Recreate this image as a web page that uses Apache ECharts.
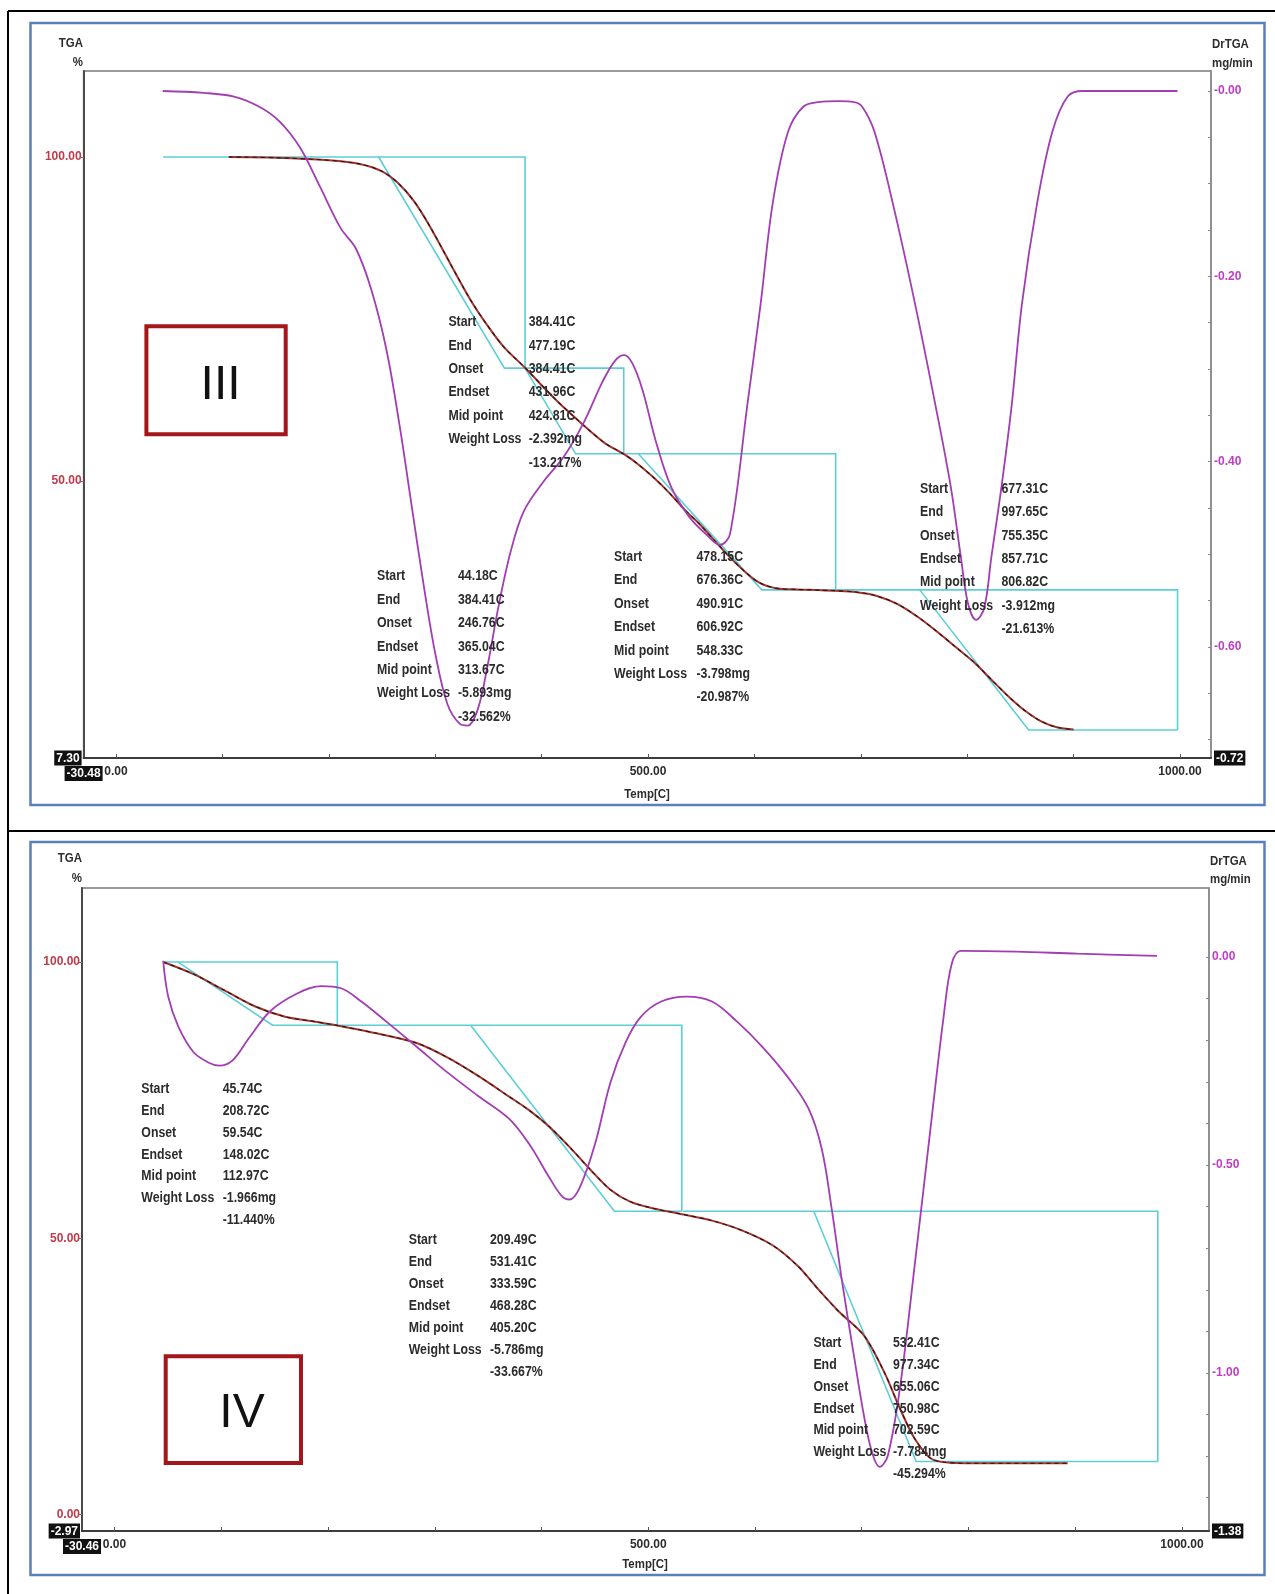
<!DOCTYPE html>
<html>
<head>
<meta charset="utf-8">
<title>TGA / DrTGA</title>
<script src="https://cdn.jsdelivr.net/npm/echarts@6.0.0/dist/echarts.min.js"></script>
<style>
  html, body { margin: 0; padding: 0; background: #fff; }
  #chart { width: 1275px; height: 1594px; }
</style>
</head>
<body>
<div id="chart"></div>
<script>
// ---------- Sample III : TGA (%) and DrTGA (mg/min) against temperature ----------
const iiiTgaTemp = [106, 150, 200, 230, 250, 265, 280, 295, 313.67, 333, 350, 365, 384.41, 400, 415, 430, 445, 460, 477, 490, 505, 520, 535, 548.33, 560, 575, 590, 605, 620, 640, 660, 676, 695, 715, 735, 755, 770, 790, 806.82, 825, 840, 855, 870, 885, 900];
const iiiTgaPct = [100.0, 99.9, 99.5, 98.9, 97.8, 96.0, 93.2, 89.3, 83.7, 78.0, 73.8, 70.6, 67.5, 64.8, 62.3, 60.0, 57.8, 55.8, 54.2, 52.7, 50.6, 48.2, 45.5, 43.4, 41.3, 38.6, 36.2, 34.3, 33.5, 33.3, 33.2, 33.1, 32.9, 32.3, 31.0, 28.9, 27.0, 24.3, 22.0, 19.0, 16.6, 14.5, 12.9, 12.0, 11.7];
const iiiDtgTemp = [43.9, 82.1, 110.8, 134.7, 153.8, 172.9, 192, 211.1, 225.4, 239.8, 254.1, 266.5, 278, 289.5, 300, 311.5, 322.9, 330.5, 340.1, 349.6, 359.2, 370.7, 383.1, 402.2, 421.3, 440.4, 456.7, 469.1, 477.7, 485.3, 494.9, 507.3, 521.6, 538.9, 555.1, 567.6, 577.1, 593.3, 605.8, 617.2, 631.6, 645.9, 660.2, 679.3, 693.7, 701.3, 712.8, 730, 751, 770.1, 784.5, 794, 800.7, 808.3, 816, 822.7, 832.2, 841.8, 851.4, 865.7, 880, 894.4, 908.7, 997.6];
const iiiDtgRate = [0.000, -0.002, -0.006, -0.017, -0.033, -0.061, -0.104, -0.148, -0.170, -0.214, -0.279, -0.361, -0.449, -0.536, -0.607, -0.662, -0.683, -0.685, -0.667, -0.618, -0.558, -0.498, -0.454, -0.421, -0.394, -0.356, -0.315, -0.291, -0.285, -0.294, -0.323, -0.378, -0.427, -0.460, -0.479, -0.490, -0.478, -0.339, -0.230, -0.121, -0.044, -0.017, -0.012, -0.011, -0.012, -0.017, -0.044, -0.121, -0.230, -0.339, -0.427, -0.503, -0.553, -0.571, -0.558, -0.503, -0.427, -0.339, -0.230, -0.121, -0.044, -0.006, 0.000, 0.000];

// weight-loss steps of sample III
const iiiStart = [44.18, 384.41, 478.15, 677.31];
const iiiEnd = [384.41, 477.19, 676.36, 997.65];
const iiiOnset = [246.76, 384.41, 490.91, 755.35];
const iiiEndset = [365.04, 431.96, 606.92, 857.71];
const iiiMid = [313.67, 424.81, 548.33, 806.82];
const iiiLossMg = [-5.893, -2.392, -3.798, -3.912];
const iiiLossPct = [-32.562, -13.217, -20.987, -21.613];

// ---------- Sample IV ----------
const ivTgaTemp = [45.6, 74.1, 102.7, 131.3, 159.8, 188.4, 206.5, 245.5, 283.6, 312.1, 340.7, 369.3, 388.3, 407.3, 426.4, 445.4, 464.5, 483.5, 507.3, 528.2, 559.7, 588.2, 616.8, 640.6, 659.6, 678.7, 702.5, 721.5, 735.8, 750.1, 767.2, 797.7, 892.9];
const ivTgaPct = [100.0, 97.8, 94.9, 92.0, 90.1, 89.2, 88.6, 87.1, 85.3, 82.7, 79.4, 75.7, 73.2, 70.2, 66.5, 62.5, 58.8, 56.6, 55.3, 54.5, 53.2, 51.4, 48.7, 44.9, 40.7, 36.7, 32.3, 25.6, 19.2, 13.6, 9.9, 9.3, 9.3];
const ivDtgTemp = [45.6, 50.3, 59.9, 74.1, 88.4, 98.0, 110.3, 126.5, 145.5, 169.3, 193.1, 212.2, 231.2, 255.0, 283.6, 312.1, 340.7, 369.3, 388.3, 407.3, 418.8, 426.4, 435.9, 450.2, 464.5, 478.8, 493.0, 512.1, 535.9, 559.7, 583.5, 607.3, 631.1, 650.1, 662.5, 672.0, 681.5, 692.9, 702.5, 710.1, 716.8, 724.4, 735.8, 750.1, 764.4, 776.7, 784.3, 792.9, 845.3, 902.4, 976.6];
const ivDtgRate = [-0.009, -0.095, -0.168, -0.229, -0.254, -0.261, -0.249, -0.193, -0.131, -0.090, -0.070, -0.075, -0.107, -0.156, -0.217, -0.278, -0.334, -0.388, -0.449, -0.530, -0.574, -0.583, -0.554, -0.449, -0.302, -0.205, -0.144, -0.107, -0.095, -0.107, -0.156, -0.217, -0.290, -0.364, -0.461, -0.608, -0.779, -0.962, -1.109, -1.195, -1.226, -1.199, -1.036, -0.730, -0.412, -0.143, -0.016, 0.015, 0.013, 0.008, 0.003];

const ivStart = [45.74, 209.49, 532.41];
const ivEnd = [208.72, 531.41, 977.34];
const ivOnset = [59.54, 333.59, 655.06];
const ivEndset = [148.02, 468.28, 750.98];
const ivMid = [112.97, 405.20, 702.59];
const ivLossMg = [-1.966, -5.786, -7.784];
const ivLossPct = [-11.440, -33.667, -45.294];

// ---------- axis ranges, ticks and labels ----------
const tempTicks = [0, 100, 200, 300, 400, 500, 600, 700, 800, 900, 1000];
const tempLabels = [0, 500, 1000];
const iiiTempRange = [-30.48, 1029.1];
const ivTempRange = [-30.46, 1025.3];
const iiiTgaRange = [7.30, 113.27];
const ivTgaRange = [-2.97, 113.4];
const iiiDtgRange = [-0.72, 0.0216];
const ivDtgRange = [-1.38, 0.166];
const iiiTgaLabels = [50, 100];
const ivTgaLabels = [0, 50, 100];
const iiiDtgLabels = [-0.6, -0.4, -0.2, 0];
const ivDtgLabels = [-1.0, -0.5, 0];
const iiiDtgTicks = [-0.70, -0.65, -0.60, -0.55, -0.50, -0.45, -0.40, -0.35, -0.30, -0.25, -0.20, -0.15, -0.10, -0.05, 0];
const ivDtgTicks = [-1.3, -1.2, -1.1, -1.0, -0.9, -0.8, -0.7, -0.6, -0.5, -0.4, -0.3, -0.2, -0.1, 0];

// ---------- styles ----------
const CYAN = '#5ccfd6';
const PURPLE = '#a23db3';
const TGA_RED = '#a8312c';
const LABEL_RED = '#c23a48';
const LABEL_MAG = '#c13cc6';
const INK = '#2c2c2c';
const AXIS_FONT = '"Liberation Sans", Arial, sans-serif';
const NOTE_FONT = 'bold 14px "Liberation Sans", Arial, sans-serif';
const TITLE_FONT = 'bold 13px "Liberation Sans", Arial, sans-serif';
const NARROW = 0.88;   // horizontal squeeze for the condensed instrument lettering

const zip = (xs, ys) => xs.map((x, i) => [x, ys[i]]);
const near = (a, b) => Math.abs(a - b) < 1e-6;

// step outline: level line, drop at End, onset→endset tangent, endset level
function stepPaths(start, end, onset, endset, lossPct) {
  const paths = [];
  let level = 100;
  for (let i = 0; i < start.length; i++) {
    const next = level + lossPct[i];
    paths.push({ coords: [[start[i], level], [end[i], level], [end[i], next]] });
    paths.push({ coords: [[onset[i], level], [endset[i], next], [end[i], next]] });
    level = next;
  }
  return paths;
}

const boxRich = {
  box: { backgroundColor: '#111', color: '#fff', padding: [2, 2, 1, 2], fontWeight: 'bold', fontSize: 12, fontFamily: AXIS_FONT },
  red: { color: LABEL_RED, fontWeight: 'bold', fontSize: 12, fontFamily: AXIS_FONT },
  mag: { color: LABEL_MAG, fontWeight: 'bold', fontSize: 12, fontFamily: AXIS_FONT },
  ink: { color: INK, fontWeight: 'bold', fontSize: 12, fontFamily: AXIS_FONT }
};

function tempAxis(grid, range) {
  return {
    type: 'value', gridIndex: grid, min: range[0], max: range[1],
    axisLine: { show: true, onZero: false, lineStyle: { color: '#3c3c3c', width: 2 } },
    axisTick: { show: true, inside: true, length: 4, customValues: tempTicks, lineStyle: { color: '#555', width: 1 } },
    axisLabel: {
      show: true, margin: 8, customValues: [range[0]].concat(tempLabels), rich: boxRich,
      formatter: v => near(v, range[0]) ? '{box|' + v.toFixed(2) + '}' : '{ink|' + v.toFixed(2) + '}'
    },
    splitLine: { show: false }
  };
}

function tgaAxis(grid, range, labels) {
  return {
    type: 'value', gridIndex: grid, position: 'left', min: range[0], max: range[1],
    axisLine: { show: true, onZero: false, lineStyle: { color: '#4a4a4a', width: 2 } },
    axisTick: { show: true, length: 3, customValues: labels, lineStyle: { color: '#777' } },
    axisLabel: {
      show: true, margin: 2, customValues: [range[0]].concat(labels), rich: boxRich,
      formatter: v => near(v, range[0]) ? '{box|' + v.toFixed(2) + '}' : '{red|' + v.toFixed(2) + '}'
    },
    splitLine: { show: false }
  };
}

function dtgAxis(grid, range, labels, ticks, signedZero) {
  return {
    type: 'value', gridIndex: grid, position: 'right', min: range[0], max: range[1],
    axisLine: { show: true, onZero: false, lineStyle: { color: '#8c8c8c', width: 1.5 } },
    axisTick: { show: true, inside: true, length: 3, customValues: ticks, lineStyle: { color: '#888' } },
    axisLabel: {
      show: true, margin: 3, customValues: [range[0]].concat(labels), rich: boxRich,
      formatter: v => {
        if (near(v, range[0])) return '{box|' + v.toFixed(2) + '}';
        const t = (signedZero ? '-' + Math.abs(v).toFixed(2) : (Math.abs(v) < 1e-9 ? '0.00' : v.toFixed(2)));
        return '{mag|' + t + '}';
      }
    },
    splitLine: { show: false }
  };
}

function panelSeries(xi, yl, yr, tgaT, tgaP, dtgT, dtgR, st, en, on, es, loss) {
  return [
    {
      type: 'lines', coordinateSystem: 'cartesian2d', xAxisIndex: xi, yAxisIndex: yl,
      polyline: true, silent: true, z: 2,
      lineStyle: { color: CYAN, width: 1.6, opacity: 1 },
      data: stepPaths(st, en, on, es, loss)
    },
    {
      type: 'line', xAxisIndex: xi, yAxisIndex: yl, data: zip(tgaT, tgaP), smooth: 0.3,
      showSymbol: false, silent: true, z: 3,
      lineStyle: { color: TGA_RED, width: 2 }
    },
    {
      type: 'line', xAxisIndex: xi, yAxisIndex: yl, data: zip(tgaT, tgaP), smooth: 0.3,
      showSymbol: false, silent: true, z: 4,
      lineStyle: { color: '#1a1a1a', width: 1.1, type: [4, 4] }
    },
    {
      type: 'line', xAxisIndex: xi, yAxisIndex: yr, data: zip(dtgT, dtgR), smooth: 0.35,
      showSymbol: false, silent: true, z: 5,
      lineStyle: { color: PURPLE, width: 1.8 }
    }
  ];
}

function txt(text, x, y, align, font) {
  return { type: 'text', x: x, y: y, z: 50, scaleX: NARROW,
    style: { text: text, font: font || TITLE_FONT, fill: INK, textAlign: align || 'left', textVerticalAlign: 'middle' } };
}

// annotation blocks (one per weight-loss step)
function noteBlock(i, st, en, on, es, mid, mg, pct, x, xv, y0, dy) {
  const names = ['Start', 'End', 'Onset', 'Endset', 'Mid point', 'Weight Loss'];
  const vals = [st[i].toFixed(2) + 'C', en[i].toFixed(2) + 'C', on[i].toFixed(2) + 'C',
    es[i].toFixed(2) + 'C', mid[i].toFixed(2) + 'C', mg[i].toFixed(3) + 'mg', pct[i].toFixed(3) + '%'];
  const out = [];
  names.forEach((n, k) => out.push(txt(n, x, y0 + k * dy, 'left', NOTE_FONT)));
  vals.forEach((v, k) => out.push(txt(v, xv, y0 + k * dy, 'left', NOTE_FONT)));
  return out;
}

const graphics = [
  // page frame
  { type: 'line', shape: { x1: 8, y1: 11, x2: 1275, y2: 11 }, style: { stroke: '#000', lineWidth: 2 } },
  { type: 'line', shape: { x1: 8, y1: 11, x2: 8, y2: 1594 }, style: { stroke: '#000', lineWidth: 2 } },
  { type: 'line', shape: { x1: 8, y1: 831, x2: 1275, y2: 831 }, style: { stroke: '#000', lineWidth: 2 } },
  // panel frames
  { type: 'rect', shape: { x: 30.5, y: 23, width: 1234, height: 782 }, style: { fill: null, stroke: '#5b80b8', lineWidth: 2.5 } },
  { type: 'rect', shape: { x: 30.5, y: 842, width: 1234, height: 733 }, style: { fill: null, stroke: '#5b80b8', lineWidth: 2.5 } },
  // sample tags
  { type: 'rect', shape: { x: 146.4, y: 326.3, width: 139.3, height: 107.9 }, style: { fill: '#fff', stroke: '#a4161a', lineWidth: 4 }, z: 40 },
  { type: 'text', x: 220.6, y: 386, z: 41, style: { text: 'III', font: '48px "Liberation Sans", Arial, sans-serif', fill: '#111', textAlign: 'center', textVerticalAlign: 'middle' } },
  { type: 'rect', shape: { x: 165.7, y: 1356.3, width: 135.3, height: 106.8 }, style: { fill: '#fff', stroke: '#a4161a', lineWidth: 4 }, z: 40 },
  { type: 'text', x: 242, y: 1414, z: 41, style: { text: 'IV', font: '48px "Liberation Sans", Arial, sans-serif', fill: '#111', textAlign: 'center', textVerticalAlign: 'middle' } },
  // axis titles
  txt('TGA', 83, 43, 'right'), txt('%', 83, 62, 'right'),
  txt('DrTGA', 1212, 44, 'left'), txt('mg/min', 1212, 63, 'left'),
  txt('Temp[C]', 647, 794, 'center'),
  txt('TGA', 82, 858, 'right'), txt('%', 82, 878, 'right'),
  txt('DrTGA', 1210, 861, 'left'), txt('mg/min', 1210, 879, 'left'),
  txt('Temp[C]', 645, 1564, 'center')
]
  .concat(noteBlock(0, iiiStart, iiiEnd, iiiOnset, iiiEndset, iiiMid, iiiLossMg, iiiLossPct, 377, 458, 576.5, 23.4))
  .concat(noteBlock(1, iiiStart, iiiEnd, iiiOnset, iiiEndset, iiiMid, iiiLossMg, iiiLossPct, 448.4, 528.7, 322.3, 23.4))
  .concat(noteBlock(2, iiiStart, iiiEnd, iiiOnset, iiiEndset, iiiMid, iiiLossMg, iiiLossPct, 614, 696.5, 557.2, 23.4))
  .concat(noteBlock(3, iiiStart, iiiEnd, iiiOnset, iiiEndset, iiiMid, iiiLossMg, iiiLossPct, 920, 1001.5, 489, 23.4))
  .concat(noteBlock(0, ivStart, ivEnd, ivOnset, ivEndset, ivMid, ivLossMg, ivLossPct, 141.3, 222.7, 1089, 21.9))
  .concat(noteBlock(1, ivStart, ivEnd, ivOnset, ivEndset, ivMid, ivLossMg, ivLossPct, 408.7, 490, 1240.4, 21.9))
  .concat(noteBlock(2, ivStart, ivEnd, ivOnset, ivEndset, ivMid, ivLossMg, ivLossPct, 813.4, 893, 1343, 21.9));

const option = {
  animation: false,
  backgroundColor: '#ffffff',
  grid: [
    { left: 83.6, top: 71, width: 1127.4, height: 687, show: true, borderColor: '#7a7a7a', borderWidth: 1.5, backgroundColor: '#fff' },
    { left: 82, top: 888, width: 1127, height: 643, show: true, borderColor: '#7a7a7a', borderWidth: 1.5, backgroundColor: '#fff' }
  ],
  xAxis: [tempAxis(0, iiiTempRange), tempAxis(1, ivTempRange)],
  yAxis: [
    tgaAxis(0, iiiTgaRange, iiiTgaLabels),
    dtgAxis(0, iiiDtgRange, iiiDtgLabels, iiiDtgTicks, true),
    tgaAxis(1, ivTgaRange, ivTgaLabels),
    dtgAxis(1, ivDtgRange, ivDtgLabels, ivDtgTicks, false)
  ],
  series: []
    .concat(panelSeries(0, 0, 1, iiiTgaTemp, iiiTgaPct, iiiDtgTemp, iiiDtgRate, iiiStart, iiiEnd, iiiOnset, iiiEndset, iiiLossPct))
    .concat(panelSeries(1, 2, 3, ivTgaTemp, ivTgaPct, ivDtgTemp, ivDtgRate, ivStart, ivEnd, ivOnset, ivEndset, ivLossPct)),
  graphic: graphics
};

const chart = echarts.init(document.getElementById('chart'), null, { renderer: 'canvas' });
chart.setOption(option);
</script>
</body>
</html>
